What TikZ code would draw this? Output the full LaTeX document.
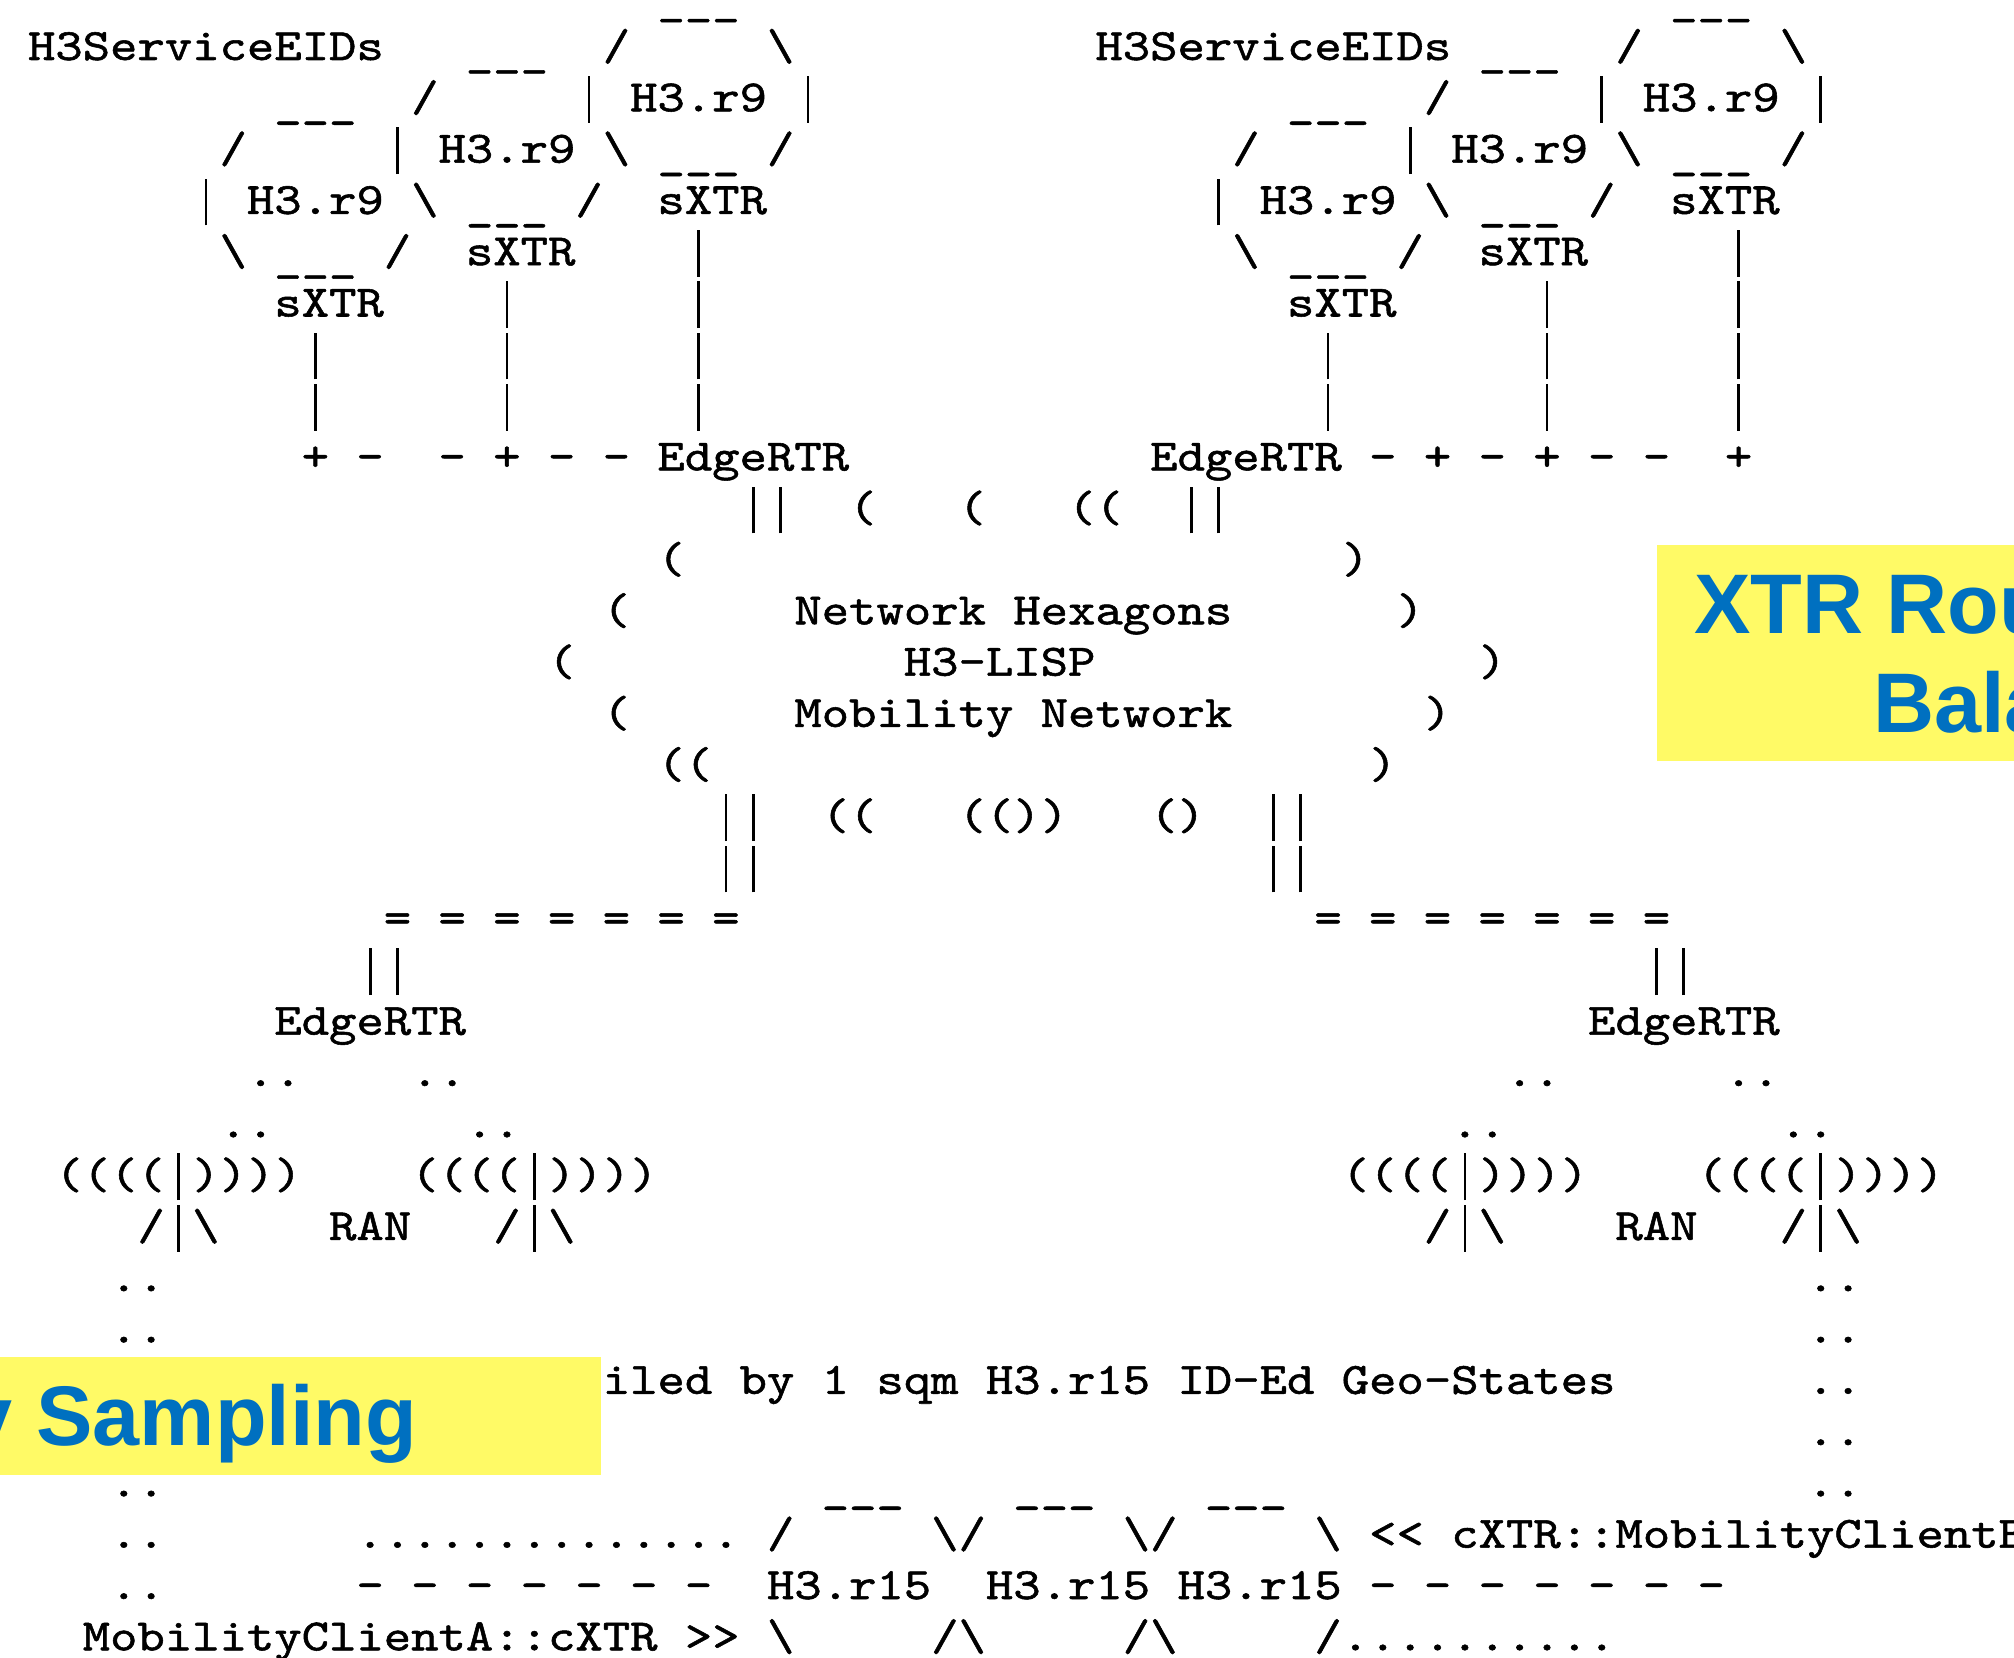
\documentclass[tikz,border=0pt]{standalone}
\usepackage{fontspec}
\setsansfont{Liberation Sans}
\newfontfamily\ascfont{lmmono10-regular.otf}[FakeStretch=1.1637,FakeBold=1.2]
\newcommand\gap[1]{\kern#1\dimexpr13.685pt\relax}
\newcommand\bs{\textbackslash}
\newcommand\vb{\hbox to 13.685pt{\hss\vrule width 1.4pt height 17.6pt depth 5.8pt\hss}}
\newcommand\lid{\raisebox{-3pt}{\_\_\_}}

\tikzset{every picture/.style={line width=0.75pt}}
\tikzset{
  asc/.style={anchor=base west, inner sep=0pt, outer sep=0pt, font=\ascfont\fontsize{22.4}{25.65}\selectfont},
  banner/.style={anchor=base west, inner sep=0pt, outer sep=0pt, text={rgb, 255:red, 0; green, 112; blue, 192 }, font=\sffamily\bfseries\fontsize{42.3}{50}\selectfont},
  hilite/.style={draw opacity=0, fill={rgb, 255:red, 255; green, 250; blue, 102 }},
}

\begin{document}
\begin{tikzpicture}[x=0.5pt,y=0.5pt,yscale=-1,xscale=1]
	\useasboundingbox (0,0) rectangle (2014,1658);
	\fill [white] (0,0) rectangle (2014,1658);

	% Text Node
	\node [asc] (l0) at (28,8.7) {\gap{23}\lid\gap{34}\lid};
	% Text Node
	\node [asc] (l1) at (28,60) {H3ServiceEIDs\gap{3}\lid\gap{2}/\gap{5}\bs\gap{11}H3ServiceEIDs\gap{1}\lid\gap{2}/\gap{5}\bs};
	% Text Node
	\node [asc] (l2) at (28,111.3) {\gap{9}\lid\gap{2}/\gap{5}\vb\gap{1}H3.r9\gap{1}\vb\gap{17}\lid\gap{2}/\gap{5}\vb\gap{1}H3.r9\gap{1}\vb};
	% Text Node
	\node [asc] (l3) at (28,162.6) {\gap{7}/\gap{5}\vb\gap{1}H3.r9\gap{1}\bs\gap{1}\lid\gap{1}/\gap{16}/\gap{5}\vb\gap{1}H3.r9\gap{1}\bs\gap{1}\lid\gap{1}/};
	% Text Node
	\node [asc] (l4) at (28,213.9) {\gap{6}\vb\gap{1}H3.r9\gap{1}\bs\gap{1}\lid\gap{1}/\gap{2}sXTR\gap{16}\vb\gap{1}H3.r9\gap{1}\bs\gap{1}\lid\gap{1}/\gap{2}sXTR};
	% Text Node
	\node [asc] (l5) at (28,265.2) {\gap{7}\bs\gap{1}\lid\gap{1}/\gap{2}sXTR\gap{4}\vb\gap{19}\bs\gap{1}\lid\gap{1}/\gap{2}sXTR\gap{5}\vb};
	% Text Node
	\node [asc] (l6) at (28,316.5) {\gap{9}sXTR\gap{4}\vb\gap{6}\vb\gap{21}sXTR\gap{5}\vb\gap{6}\vb};
	% Text Node
	\node [asc] (l7) at (28,367.8) {\gap{10}\vb\gap{6}\vb\gap{6}\vb\gap{22}\vb\gap{7}\vb\gap{6}\vb};
	% Text Node
	\node [asc] (l8) at (28,419.1) {\gap{10}\vb\gap{6}\vb\gap{6}\vb\gap{22}\vb\gap{7}\vb\gap{6}\vb};
	% Text Node
	\node [asc] (l9) at (28,470.4) {\gap{10}+\gap{1}-\gap{2}-\gap{1}+\gap{1}-\gap{1}-\gap{1}EdgeRTR\gap{11}EdgeRTR\gap{1}-\gap{1}+\gap{1}-\gap{1}+\gap{1}-\gap{1}-\gap{2}+};
	% Text Node
	\node [asc] (l10) at (28,521.7) {\gap{26}\vb\vb\gap{2}(\gap{3}(\gap{3}((\gap{2}\vb\vb};
	% Text Node
	\node [asc] (l11) at (28,573) {\gap{23}(\gap{24})};
	% Text Node
	\node [asc] (l12) at (28,624.3) {\gap{21}(\gap{6}Network\gap{1}Hexagons\gap{6})};
	% Text Node
	\node [asc] (l13) at (28,675.6) {\gap{19}(\gap{12}H3-LISP\gap{14})};
	% Text Node
	\node [asc] (l14) at (28,726.9) {\gap{21}(\gap{6}Mobility\gap{1}Network\gap{7})};
	% Text Node
	\node [asc] (l15) at (28,778.2) {\gap{23}((\gap{24})};
	% Text Node
	\node [asc] (l16) at (28,829.5) {\gap{25}\vb\vb\gap{2}((\gap{3}(())\gap{3}()\gap{2}\vb\vb};
	% Text Node
	\node [asc] (l17) at (28,880.8) {\gap{25}\vb\vb\gap{18}\vb\vb};
	% Text Node
	\node [asc] (l18) at (28,932.1) {\gap{13}=\gap{1}=\gap{1}=\gap{1}=\gap{1}=\gap{1}=\gap{1}=\gap{21}=\gap{1}=\gap{1}=\gap{1}=\gap{1}=\gap{1}=\gap{1}=};
	% Text Node
	\node [asc] (l19) at (28,983.4) {\gap{12}\vb\vb\gap{45}\vb\vb};
	% Text Node
	\node [asc] (l20) at (28,1034.7) {\gap{9}EdgeRTR\gap{41}EdgeRTR};
	% Text Node
	\node [asc] (l21) at (28,1086) {\gap{8}..\gap{4}..\gap{38}..\gap{6}..};
	% Text Node
	\node [asc] (l22) at (28,1137.3) {\gap{7}..\gap{7}..\gap{34}..\gap{10}..};
	% Text Node
	\node [asc] (l23) at (28,1188.6) {\gap{1}((((\vb))))\gap{4}((((\vb))))\gap{25}((((\vb))))\gap{4}((((\vb))))};
	% Text Node
	\node [asc] (l24) at (28,1239.9) {\gap{4}/\vb\bs\gap{4}RAN\gap{3}/\vb\bs\gap{31}/\vb\bs\gap{4}RAN\gap{3}/\vb\bs};
	% Text Node
	\node [asc] (l25) at (28,1291.2) {\gap{3}..\gap{60}..};
	% Text Node
	\node [asc] (l26) at (28,1342.5) {\gap{3}..\gap{60}..};
	% Text Node
	\node [asc] (l27) at (28,1393.8) {\gap{21}iled\gap{1}by\gap{1}1\gap{1}sqm\gap{1}H3.r15\gap{1}ID-Ed\gap{1}Geo-States\gap{7}..};
	% Text Node
	\node [asc] (l28) at (28,1445.1) {\gap{65}..};
	% Text Node
	\node [asc] (l29) at (28,1496.4) {\gap{3}..\gap{24}\lid\gap{4}\lid\gap{4}\lid\gap{19}..};
	% Text Node
	\node [asc] (l30) at (28,1547.7) {\gap{3}..\gap{7}..............\gap{1}/\gap{5}\bs/\gap{5}\bs/\gap{5}\bs\gap{1}<\kern0pt<\gap{1}cXTR::MobilityClientB};
	% Text Node
	\node [asc] (l31) at (28,1599) {\gap{3}..\gap{7}-\gap{1}-\gap{1}-\gap{1}-\gap{1}-\gap{1}-\gap{1}-\gap{2}H3.r15\gap{2}H3.r15\gap{1}H3.r15\gap{1}-\gap{1}-\gap{1}-\gap{1}-\gap{1}-\gap{1}-\gap{1}-};
	% Text Node
	\node [asc] (l32) at (28,1650.3) {\gap{2}MobilityClientA::cXTR\gap{1}>\kern0pt>\gap{1}\bs\gap{1}\lid\gap{1}/\bs\gap{1}\lid\gap{1}/\bs\gap{1}\lid\gap{1}/..........};

	%Shape: Rectangle [id:xtrbox]
	\draw [hilite] (1657,545) rectangle (2020,761);
	% Text Node
	\node [banner] (xtr1) at (1694,633) {XTR Rou};
	% Text Node
	\node [banner] (xtr2) at (1873,732) {Bala};

	%Shape: Rectangle [id:sampbox]
	\draw [hilite] (-6,1357) rectangle (601,1475);
	% Text Node
	\node [banner] (samp) at (-34,1445) {y Sampling};

\end{tikzpicture}
\end{document}
